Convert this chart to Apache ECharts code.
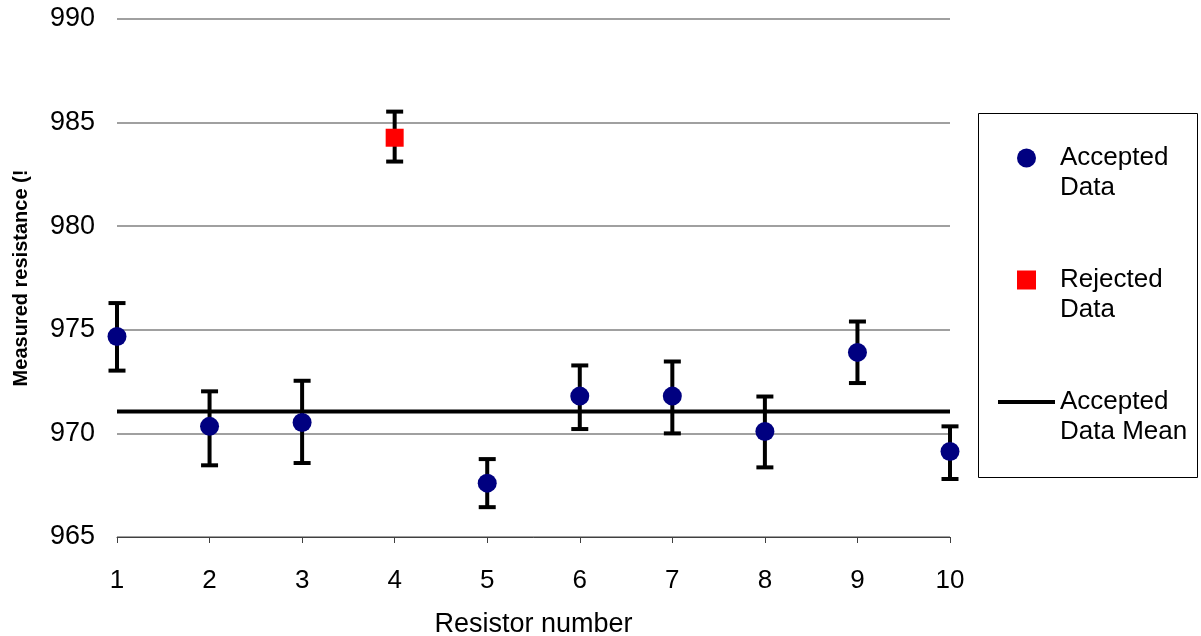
<!DOCTYPE html>
<html>
<head>
<meta charset="utf-8">
<title>Measured resistance</title>
<script src="https://cdn.jsdelivr.net/npm/echarts@6/dist/echarts.min.js"></script>
<style>
  html, body { margin: 0; padding: 0; background: #fff; }
  #chart { width: 1201px; height: 636px; }
</style>
</head>
<body>
<div id="chart"></div>
<script>
// resistor numbers on the x axis
var resistorNumbers = [1, 2, 3, 4, 5, 6, 7, 8, 9, 10];
// measured values (ohm)
var measured = [974.68, 970.34, 970.53, 984.27, 967.6, 971.8, 971.8, 970.09, 973.91, 969.13];
// error bar ends
var errLow = [973.03, 968.46, 968.57, 983.12, 966.44, 970.21, 970.0, 968.36, 972.43, 967.8];
var errHigh = [976.29, 972.03, 972.54, 985.53, 968.76, 973.28, 973.47, 971.78, 975.4, 970.34];
// rejected points (resistor number)
var rejected = [4];
// mean of accepted data, drawn across the axis
var meanX = [1, 10];
var meanY = [971.06, 971.06];

var fontName = '"Liberation Sans", Arial, sans-serif';

var accepted = [];
var rejectedPts = [];
var bars = [];
for (var i = 0; i < resistorNumbers.length; i++) {
  var n = resistorNumbers[i];
  if (rejected.indexOf(n) >= 0) {
    rejectedPts.push([n, measured[i]]);
  } else {
    accepted.push([n, measured[i]]);
  }
  bars.push([n, errLow[i], errHigh[i]]);
}
var meanLine = [];
for (var j = 0; j < meanX.length; j++) {
  meanLine.push([meanX[j], meanY[j]]);
}

var chart = echarts.init(document.getElementById('chart'));
var option = {
  animation: false,
  backgroundColor: '#fff',
  textStyle: { fontFamily: fontName },
  grid: { left: 117, right: 251, top: 19, bottom: 99, containLabel: false, outerBoundsMode: 'none' },
  xAxis: {
    type: 'value',
    min: 1,
    max: 10,
    interval: 1,
    name: 'Resistor number',
    nameLocation: 'middle',
    nameGap: 74,
    nameTextStyle: { fontSize: 27, color: '#000', fontFamily: fontName },
    axisLine: { show: true, onZero: false, lineStyle: { color: '#404040', width: 1 } },
    axisTick: { show: true, length: 6, lineStyle: { color: '#404040' } },
    axisLabel: { fontSize: 26, color: '#000', margin: 31, fontFamily: fontName },
    splitLine: { show: false }
  },
  yAxis: {
    type: 'value',
    min: 965,
    max: 990,
    interval: 5,
    name: 'Measured resistance (!',
    nameLocation: 'middle',
    nameRotate: 90,
    nameGap: 86,
    nameTextStyle: { fontSize: 20, fontWeight: 'bold', color: '#000', fontFamily: fontName },
    axisLine: { show: false },
    axisTick: { show: false },
    axisLabel: { fontSize: 27, color: '#000', margin: 22, fontFamily: fontName },
    splitLine: { show: true, lineStyle: { color: '#808080', width: 1.5 } }
  },
  legend: {
    orient: 'vertical',
    left: 998,
    top: 113,
    padding: 0,
    itemGap: 32,
    itemWidth: 57,
    itemHeight: 19,
    data: [
      { name: 'Accepted Data', icon: 'circle' },
      { name: 'Rejected Data', icon: 'path://M0,0 H10 V10 H0 Z' },
      { name: 'Accepted Data Mean', icon: 'path://M0,0 H57 V4 H0 Z' }
    ],
    // blank first line keeps the marker level with the first text line
    formatter: function (name) {
      return ' \n' + name.replace(/^(\S+) /, '$1\n');
    },
    textStyle: { fontSize: 26, color: '#000', lineHeight: 30, fontFamily: fontName }
  },
  graphic: [{
    type: 'rect',
    shape: { x: 978.5, y: 113.5, width: 219, height: 364 },
    style: { fill: 'none', stroke: '#000', lineWidth: 1 },
    z: -1
  }],
  series: [
    {
      name: 'Accepted Data Mean',
      type: 'line',
      data: meanLine,
      symbol: 'none',
      lineStyle: { color: '#000', width: 4 },
      itemStyle: { color: '#000' },
      z: 2
    },
    {
      name: 'error',
      type: 'custom',
      data: bars,
      z: 3,
      renderItem: function (params, api) {
        var x = api.value(0);
        var lo = api.coord([x, api.value(1)]);
        var hi = api.coord([x, api.value(2)]);
        var cap = 8.5;
        var st = { stroke: '#000', lineWidth: 4 };
        return {
          type: 'group',
          children: [
            { type: 'line', shape: { x1: hi[0], y1: hi[1], x2: lo[0], y2: lo[1] }, style: st },
            { type: 'line', shape: { x1: hi[0] - cap, y1: hi[1], x2: hi[0] + cap, y2: hi[1] }, style: st },
            { type: 'line', shape: { x1: lo[0] - cap, y1: lo[1], x2: lo[0] + cap, y2: lo[1] }, style: st }
          ]
        };
      }
    },
    {
      name: 'Accepted Data',
      type: 'scatter',
      data: accepted,
      symbol: 'circle',
      symbolSize: 19,
      itemStyle: { color: '#000080', opacity: 1 },
      z: 4
    },
    {
      name: 'Rejected Data',
      type: 'scatter',
      data: rejectedPts,
      symbol: 'rect',
      symbolSize: 18,
      itemStyle: { color: '#ff0000', opacity: 1 },
      z: 4
    }
  ]
};
chart.setOption(option);
window.onresize = function () {
  chart.resize();
};
</script>
</body>
</html>
